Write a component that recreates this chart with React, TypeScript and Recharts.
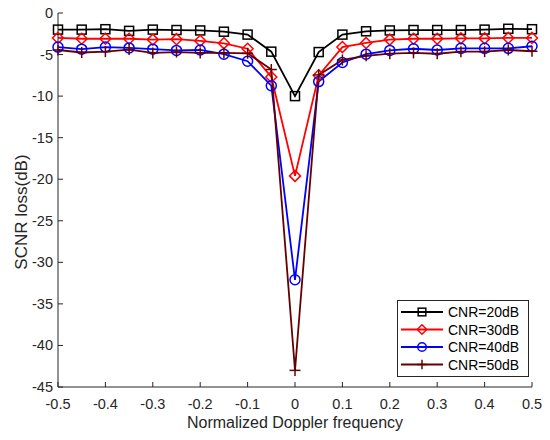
import React from 'react';
import { LineChart, Line, XAxis, YAxis, Legend } from 'recharts';

const FREQ = [-0.5, -0.45, -0.4, -0.35, -0.3, -0.25, -0.2, -0.15, -0.1, -0.05, 0, 0.05, 0.1, 0.15, 0.2, 0.25, 0.3, 0.35, 0.4, 0.45, 0.5];
const CNR20 = [-2.0, -2.0, -1.95, -2.15, -2.0, -2.05, -2.1, -2.25, -2.6, -4.65, -10.0, -4.7, -2.6, -2.2, -2.1, -2.05, -2.05, -2.05, -2.0, -1.9, -1.95];
const CNR30 = [-3.0, -3.1, -3.1, -3.1, -3.2, -3.15, -3.35, -3.65, -4.3, -7.7, -19.6, -7.5, -4.1, -3.6, -3.2, -3.1, -3.1, -3.05, -3.05, -3.0, -3.0];
const CNR40 = [-4.1, -4.35, -4.1, -4.2, -4.35, -4.5, -4.45, -4.95, -5.8, -8.75, -32.1, -8.25, -5.95, -4.95, -4.5, -4.3, -4.45, -4.25, -4.25, -4.25, -4.0];
const CNR50 = [-4.45, -4.75, -4.65, -4.4, -4.8, -4.7, -4.8, -4.8, -4.85, -6.8, -43.0, -7.45, -5.65, -5.15, -4.9, -4.8, -4.9, -4.65, -4.65, -4.45, -4.6];
const X_TICKS = [-0.5, -0.4, -0.3, -0.2, -0.1, 0, 0.1, 0.2, 0.3, 0.4, 0.5];
const Y_TICKS = [0, -5, -10, -15, -20, -25, -30, -35, -40, -45];
const SERIES_NAMES = ['CNR=20dB', 'CNR=30dB', 'CNR=40dB', 'CNR=50dB'];
const COLORS = ['#000000', '#ff0000', '#0000ff', '#660000'];
const MARKERS = ['square', 'diamond', 'circle', 'plus'];

const data = FREQ.map((f, i) => ({ f, s20: CNR20[i], s30: CNR30[i], s40: CNR40[i], s50: CNR50[i] }));
const KEYS = ['s20', 's30', 's40', 's50'];

const FONT = '"Liberation Sans", Arial, Helvetica, sans-serif';
const TICK_LEN = 5;

function Marker({ type, cx, cy, color, scale = 1 }: { type: string; cx: number; cy: number; color: string; scale?: number }) {
  if (cx == null || cy == null || isNaN(cx) || isNaN(cy)) return null;
  if (type === 'square') {
    const h = 4.5 * scale;
    return <rect x={cx - h} y={cy - h} width={2 * h} height={2 * h} fill="none" stroke={color} strokeWidth={1.5} />;
  }
  if (type === 'diamond') {
    const s = 5.5 * scale;
    return <polygon points={`${cx},${cy - s} ${cx + s},${cy} ${cx},${cy + s} ${cx - s},${cy}`} fill="none" stroke={color} strokeWidth={1.5} />;
  }
  if (type === 'circle') {
    return <circle cx={cx} cy={cy} r={5 * scale} fill="none" stroke={color} strokeWidth={1.5} />;
  }
  const s = 5.5 * scale;
  return (
    <g stroke={color} strokeWidth={1.5}>
      <line x1={cx - s} x2={cx + s} y1={cy} y2={cy} />
      <line x1={cx} x2={cx} y1={cy - s} y2={cy + s} />
    </g>
  );
}

const fmt = (v: number) => (v === 0 ? '0' : String(v));

const BottomTick = (props: any) => {
  const { x, y, payload } = props;
  return (
    <g>
      <line x1={x} x2={x} y1={y} y2={y - TICK_LEN} stroke="#262626" strokeWidth={1} />
      <text x={x} y={y + 22} textAnchor="middle" fontSize={14.5} fontFamily={FONT} fill="#262626">{fmt(payload.value)}</text>
    </g>
  );
};
const TopTick = (props: any) => {
  const { x, y } = props;
  return <line x1={x} x2={x} y1={y} y2={y + TICK_LEN} stroke="#262626" strokeWidth={1} />;
};
const LeftTick = (props: any) => {
  const { x, y, payload } = props;
  return (
    <g>
      <line x1={x} x2={x + TICK_LEN} y1={y} y2={y} stroke="#262626" strokeWidth={1} />
      <text x={x - 5} y={y + 5} textAnchor="end" fontSize={14.5} fontFamily={FONT} fill="#262626">{fmt(payload.value)}</text>
    </g>
  );
};
const RightTick = (props: any) => {
  const { x, y } = props;
  return <line x1={x} x2={x - TICK_LEN} y1={y} y2={y} stroke="#262626" strokeWidth={1} />;
};

const LegendBox = () => (
  <svg width={132} height={77} style={{ display: 'block' }}>
    <rect x={0.5} y={0.5} width={131} height={76} fill="#ffffff" stroke="#262626" strokeWidth={1} />
    {SERIES_NAMES.map((name, i) => {
      const y = 12 + i * 17.5;
      return (
        <g key={name}>
          <line x1={4} x2={46} y1={y} y2={y} stroke={COLORS[i]} strokeWidth={1.8} />
          <Marker type={MARKERS[i]} cx={25} cy={y} color={COLORS[i]} scale={0.85} />
          <text x={51} y={y + 5} fontSize={14} fontFamily={FONT} fill="#000">{name}</text>
        </g>
      );
    })}
  </svg>
);

export default function App() {
  return (
    <div style={{ position: 'absolute', left: 0, top: 0, width: 550, height: 440, background: '#fff' }}>
      <LineChart width={550} height={440} data={data} margin={{ top: 13, right: 18, bottom: 0, left: 0 }}>
        <XAxis
          dataKey="f"
          type="number"
          domain={[-0.5, 0.5]}
          ticks={X_TICKS}
          interval={0}
          height={53}
          tickSize={0}
          tickMargin={0}
          tickLine={false}
          axisLine={{ stroke: '#262626' }}
          tick={<BottomTick />}
          label={{
            content: (p: any) => {
              const vb = p.viewBox;
              return (
                <text x={vb.x + vb.width / 2} y={vb.y + 41} textAnchor="middle" fontSize={16} fontFamily={FONT} fill="#262626">
                  Normalized Doppler frequency
                </text>
              );
            },
          }}
        />
        <XAxis
          xAxisId="top"
          orientation="top"
          dataKey="f"
          type="number"
          domain={[-0.5, 0.5]}
          ticks={X_TICKS}
          interval={0}
          height={0}
          tickSize={0}
          tickMargin={0}
          tickLine={false}
          axisLine={{ stroke: '#262626' }}
          tick={<TopTick />}
        />
        <YAxis
          type="number"
          domain={[-45, 0]}
          ticks={Y_TICKS}
          interval={0}
          width={58}
          tickSize={0}
          tickMargin={0}
          tickLine={false}
          axisLine={{ stroke: '#262626' }}
          tick={<LeftTick />}
          label={{
            content: (p: any) => {
              const vb = p.viewBox;
              const cy = vb.y + vb.height / 2 + 12;
              return (
                <text x={27} y={cy} transform={`rotate(-90, 27, ${cy})`} textAnchor="middle" fontSize={17} fontFamily={FONT} fill="#262626">
                  SCNR loss(dB)
                </text>
              );
            },
          }}
        />
        <YAxis
          yAxisId="right"
          orientation="right"
          type="number"
          domain={[-45, 0]}
          ticks={Y_TICKS}
          interval={0}
          width={0}
          tickSize={0}
          tickMargin={0}
          tickLine={false}
          axisLine={{ stroke: '#262626' }}
          tick={<RightTick />}
        />
        {KEYS.map((k, i) => (
          <Line
            key={k}
            dataKey={k}
            name={SERIES_NAMES[i]}
            stroke={COLORS[i]}
            strokeWidth={1.8}
            isAnimationActive={false}
            dot={(p: any) => <Marker key={`${k}-${p.index}`} type={MARKERS[i]} cx={p.cx} cy={p.cy} color={COLORS[i]} />}
            activeDot={false}
          />
        ))}
        <Legend
          layout="vertical"
          align="center"
          verticalAlign="middle"
          content={() => <LegendBox />}
          wrapperStyle={{ position: 'absolute', left: 397, top: 300, width: 132, height: 77 }}
        />
      </LineChart>
    </div>
  );
}
